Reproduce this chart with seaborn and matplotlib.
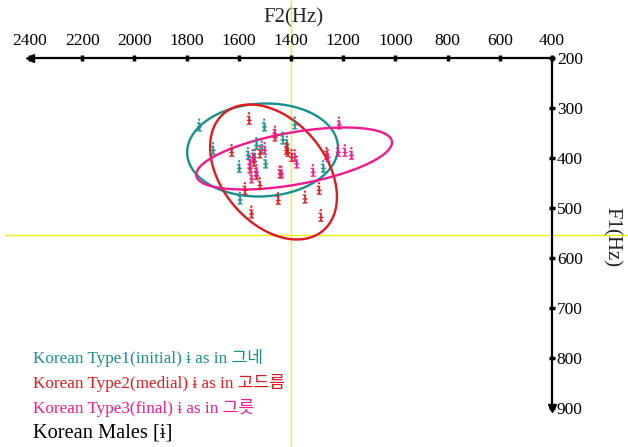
"""
Korean /ɨ/ vowel space (F1 x F2) - three positional types with spread ellipses
"""
import numpy as np
import pandas as pd
import matplotlib
matplotlib.use("Agg")
import matplotlib.pyplot as plt
import seaborn as sns

sns.set_theme(style="white")
plt.rcParams["font.family"] = ["Liberation Serif", "DejaVu Serif", "Noto Sans CJK KR"]
plt.rcParams["mathtext.fontset"] = "dejavuserif"

TEAL = "#17908e"
RED = "#e3181c"
PINK = "#ef1a8e"

# --- datos (Hz) ---
type1_f2 = [1751, 1698, 1502, 1385, 1431, 1415, 1532, 1564, 1598, 1497, 1276, 1595, 1538, 1511]
type1_f1 = [334, 381, 334, 330, 360, 368, 371, 391, 417, 408, 417, 480, 395, 378]

type2_f2 = [1560, 1461, 1627, 1519, 1417, 1397, 1442, 1532, 1576, 1519, 1449, 1551, 1346,
            1292, 1285, 1263, 1557, 1542, 1412]
type2_f1 = [321, 354, 385, 388, 381, 395, 428, 431, 461, 451, 481, 508, 478,
            461, 515, 391, 418, 405, 385]

type3_f2 = [1215, 1219, 1193, 1168, 1378, 1315, 1500, 1557, 1551, 1532, 1436, 1385, 1461,
            1546, 1258]
type3_f1 = [330, 385, 385, 391, 408, 425, 381, 408, 438, 425, 428, 395, 348,
            395, 395]

# elipses: centro, semi-rango en F2 y F1, inclinación (F1 en el punto de F2 máximo)
ellipse_f2 = [1509, 1467, 1388]
ellipse_f1 = [384, 428, 401]
ellipse_rf2 = [289, 243, 375]
ellipse_rf1 = [93, 135, 62]
ellipse_tilt = [0.05, -0.37, 0.52]

type_names = ["Type1", "Type2", "Type3"]
legend_labels = [
    "Korean Type1(initial) ɨ as in 그네",
    "Korean Type2(medial) ɨ as in 고드름",
    "Korean Type3(final) ɨ as in 그릇",
]
colors = [TEAL, RED, PINK]
palette = dict(zip(type_names, colors))

f2_ticks = [2400, 2200, 2000, 1800, 1600, 1400, 1200, 1000, 800, 600, 400]
f1_ticks = [200, 300, 400, 500, 600, 700, 800, 900]
mean_f2 = 1400
mean_f1 = 555

df = pd.concat([
    pd.DataFrame({"F2": type1_f2, "F1": type1_f1, "tipo": "Type1"}),
    pd.DataFrame({"F2": type2_f2, "F1": type2_f1, "tipo": "Type2"}),
    pd.DataFrame({"F2": type3_f2, "F1": type3_f1, "tipo": "Type3"}),
], ignore_index=True)

W, H = 628, 447
fig = plt.figure(figsize=(W / 100, H / 100), dpi=100)
ax = fig.add_axes([30 / W, (H - 408) / H, 522 / W, 350 / H])

# líneas amarillas de referencia
ax.axvline(mean_f2, ymin=-0.12, ymax=1.17, color="#f5f000", lw=1, clip_on=False, zorder=0)
ax.axhline(mean_f1, xmin=-0.048, xmax=1.15, color="#f5f000", lw=1, clip_on=False, zorder=0)

sns.scatterplot(data=df, x="F2", y="F1", hue="tipo", palette=palette, marker=r"$\mathrm{ɨ}$",
                s=80, linewidth=0.3, edgecolor="face", legend=False, ax=ax, zorder=3)

t = np.linspace(0, 2 * np.pi, 300)
for i in range(3):
    phi = np.arccos(ellipse_tilt[i])
    ex = ellipse_f2[i] + ellipse_rf2[i] * np.cos(t)
    ey = ellipse_f1[i] + ellipse_rf1[i] * np.cos(t - phi)
    ax.plot(ex, ey, color=colors[i], lw=1.7, zorder=2)

ax.set_xlim(2400, 400)
ax.set_ylim(900, 200)
ax.set_xticks(f2_ticks)
ax.set_yticks(f1_ticks)
ax.set_xlabel("")
ax.set_ylabel("")

ax.spines["left"].set_visible(False)
ax.spines["bottom"].set_visible(False)
for side in ["top", "right"]:
    ax.spines[side].set_visible(True)
    ax.spines[side].set_color("black")
    ax.spines[side].set_linewidth(1.6)

ax.xaxis.tick_top()
ax.yaxis.tick_right()
ax.tick_params(axis="x", direction="inout", length=5, width=2.5, color="black",
               labelsize=12.5, pad=4, labelcolor="black")
ax.tick_params(axis="y", direction="inout", length=5, width=2.5, color="black",
               labelsize=12.5, pad=1, labelcolor="black")

# flechas de los ejes
ax.plot(0, 1, marker="<", color="black", markersize=6, transform=ax.transAxes, clip_on=False)
ax.plot(1, 0, marker="v", color="black", markersize=6, transform=ax.transAxes, clip_on=False)

fig.text(293 / W, 1 - 18 / H, "F2(Hz)", ha="center", va="center", fontsize=15)
fig.text(612 / W, 1 - 237 / H, "F1(Hz)", ha="center", va="center", fontsize=15, rotation=-90)

legend_y = [358, 383, 408]
for lab, col, y in zip(legend_labels, colors, legend_y):
    fig.text(33 / W, 1 - y / H, lab, color=col, ha="left", va="center", fontsize=12.3)
fig.text(33 / W, 1 - 433 / H, "Korean Males [ɨ]", color="black", ha="left", va="center",
         fontsize=14.7)

plt.savefig("out.png", dpi=100)
plt.close()
